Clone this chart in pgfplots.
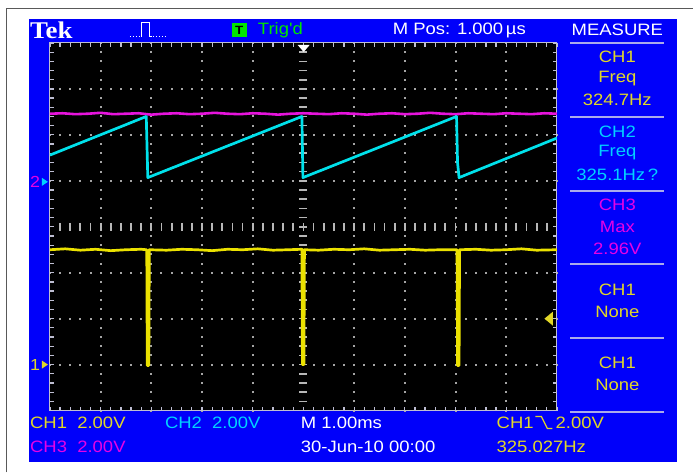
\documentclass[border=0pt]{standalone}
\usepackage{pgfplots}
\pgfplotsset{compat=1.18}
\usepackage{fontspec}
\setmainfont{Liberation Sans}
\newfontfamily\tek[FakeStretch=1.12]{Liberation Sans}
\newfontfamily\tekserif[FakeStretch=1.12]{Liberation Serif}
\definecolor{tekblue}{RGB}{0,0,250}
\definecolor{tyel}{RGB}{225,215,40}
\definecolor{trYel}{RGB}{235,225,0}
\definecolor{tcyan}{RGB}{0,210,255}
\definecolor{trCyan}{RGB}{0,225,235}
\definecolor{tmag}{RGB}{230,0,230}
\definecolor{trMag}{RGB}{230,20,220}
\definecolor{tgreen}{RGB}{0,230,0}
\definecolor{sepcol}{RGB}{170,170,235}
\definecolor{gridcol}{RGB}{165,165,165}
\definecolor{edgecol}{RGB}{190,190,210}
\begin{document}
\begin{tikzpicture}[x=1pt,y=-1pt]
\fill[white] (0,0) rectangle (694,473);
\draw[black!65, line width=1.5pt] (6.5,473) -- (6.5,8.5) -- (694,8.5);
\fill[tekblue] (29,19) rectangle (678,462);
\fill[black] (50,43) rectangle (557.5,411);
% grid dots on vertical lines
\foreach \i in {1,2,3,4,6,7,8,9}{
  \foreach \j in {0,...,40}{
    \fill[gridcol] ({50+50.75*\i-1},{43+9.2*\j-1}) rectangle +(2,2);
  }
}
% grid dots on horizontal lines
\foreach \m in {1,2,3,5,6,7}{
  \foreach \j in {0,...,50}{
    \fill[gridcol] ({50+10.15*\j-1},{43+46*\m-1}) rectangle +(2,2);
  }
}
% center line ticks
\foreach \j in {1,...,39}{
  \draw[gridcol!80!white, line width=1.6pt] ({303.75-4},{43+9.2*\j}) -- ({303.75+4},{43+9.2*\j});
}
\foreach \j in {1,...,49}{
  \draw[gridcol!80!white, line width=1.8pt] ({50+10.15*\j},223) -- ({50+10.15*\j},231);
}
% edge ticks
\foreach \j in {0,...,50}{
  \draw[edgecol, line width=1.2pt] ({50+10.15*\j},43) -- ({50+10.15*\j},47);
  \draw[edgecol, line width=1.2pt] ({50+10.15*\j},411) -- ({50+10.15*\j},407);
}
\foreach \j in {0,...,40}{
  \draw[edgecol, line width=1.2pt] (50,{43+9.2*\j}) -- (54,{43+9.2*\j});
  \draw[edgecol, line width=1.2pt] (557.5,{43+9.2*\j}) -- (553.5,{43+9.2*\j});
}
\draw[edgecol, line width=1pt] (50,43) rectangle (557.5,411);
\begin{axis}[at={(50pt,-411pt)}, anchor=south west, width=507.5pt, height=368pt,
  scale only axis, xmin=0, xmax=10, ymin=-4, ymax=4, hide axis, clip=true]
\addplot[trMag, line width=2.6pt, line join=round] coordinates {
(0,2.46)(0.25,2.47)(0.5,2.45)(0.75,2.46)(1,2.48)(1.25,2.45)(1.5,2.46)(1.75,2.47)(2,2.44)(2.25,2.46)(2.5,2.47)(2.75,2.45)(3,2.46)(3.25,2.48)(3.5,2.46)(3.75,2.45)(4,2.47)(4.25,2.46)(4.5,2.44)(4.75,2.46)(5,2.47)(5.25,2.46)(5.5,2.45)(5.75,2.47)(6,2.46)(6.25,2.44)(6.5,2.46)(6.75,2.47)(7,2.45)(7.25,2.46)(7.5,2.48)(7.75,2.46)(8,2.45)(8.25,2.47)(8.5,2.46)(8.75,2.45)(9,2.47)(9.25,2.46)(9.5,2.45)(9.75,2.47)(10,2.46)};
\addplot[trCyan, line width=2.7pt, line join=round] coordinates {
(0,1.56)(1.90,2.40)(1.93,1.07)(4.97,2.40)(4.99,1.07)(8.02,2.40)(8.04,1.40)(8.07,1.07)(10,1.93)};
\addplot[trYel, line width=2.7pt, line join=round] coordinates {
(0,-0.50)(0.3,-0.48)(0.6,-0.51)(0.9,-0.49)(1.2,-0.52)(1.5,-0.50)(1.8,-0.49)(1.91,-0.50)(1.92,-3.02)(1.95,-3.02)(1.96,-0.50)(2.3,-0.51)(2.6,-0.49)(2.9,-0.50)(3.2,-0.52)(3.5,-0.49)(3.8,-0.50)(4.1,-0.48)(4.4,-0.51)(4.7,-0.50)(4.97,-0.49)(4.98,-3.0)(5.01,-3.0)(5.02,-0.50)(5.3,-0.51)(5.6,-0.49)(5.9,-0.50)(6.2,-0.48)(6.5,-0.51)(6.8,-0.50)(7.1,-0.49)(7.4,-0.51)(7.7,-0.50)(8.03,-0.50)(8.04,-3.02)(8.07,-3.02)(8.08,-0.50)(8.4,-0.49)(8.7,-0.51)(9.0,-0.50)(9.3,-0.48)(9.6,-0.51)(10,-0.50)};
\end{axis}
% markers
\fill[white] (298,45) -- (310,45) -- (304,52) -- cycle;
\fill[tyel] (553.5,312) -- (553.5,326) -- (545,319) -- cycle;
\node[anchor=west, inner sep=0, text=tmag, font=\tek\fontsize{16}{16}\selectfont] at (30,182) {2};
\fill[tcyan] (42,178) -- (48,182) -- (42,186) -- cycle;
\node[anchor=west, inner sep=0, text=tyel, font=\tek\fontsize{16}{16}\selectfont] at (30,365) {1};
\fill[tyel] (42,361) -- (48,365) -- (42,369) -- cycle;
% status bar
\node[anchor=west, inner sep=0, text=white, font=\tekserif\bfseries\fontsize{24}{24}\selectfont] at (30,30) {Tek};
\draw[white, line width=1pt, dash pattern=on 1.5pt off 1.5pt] (130,37) -- (142,37);
\draw[white, line width=1pt] (142,37) -- (142,23) -- (150,23) -- (150,37) -- (152,37);
\draw[white, line width=1pt, dash pattern=on 1.5pt off 1.5pt] (153,37) -- (166,37);
\fill[tgreen] (232,23) rectangle (247,37);
\node[inner sep=0, text=black, font=\tek\bfseries\fontsize{12}{12}\selectfont] at (239.5,30) {T};
\node[anchor=west, inner sep=0, text=tgreen, font=\tek\fontsize{16.5}{16.5}\selectfont] at (258,30) {Trig'd};
\node[anchor=west, inner sep=0, text=white, font=\tek\fontsize{16.5}{16.5}\selectfont] at (393,30) {M Pos: 1.000\,µs};
\node[inner sep=0, text=white, font=\tek\fontsize{16.5}{16.5}\selectfont] at (618,30) {MEASURE};
% panel separators
\foreach \y in {43,117,191,264,338,412}{
  \draw[sepcol, line width=2pt] (571,\y) -- (665,\y);
}
\begin{scope}[every node/.style={inner sep=0, font=\tek\fontsize{16.5}{16.5}\selectfont}]
\node[text=tyel] at (618,57) {CH1};
\node[text=tyel] at (618,79) {Freq};
\node[text=tyel] at (618,100) {324.7Hz};
\node[text=tcyan] at (618,132) {CH2};
\node[text=tcyan] at (618,153) {Freq};
\node[text=tcyan] at (618,175) {325.1Hz\,?};
\node[text=tmag] at (618,205) {CH3};
\node[text=tmag] at (618,227) {Max};
\node[text=tmag] at (618,249) {2.96V};
\node[text=tyel] at (618,290) {CH1};
\node[text=tyel] at (618,312) {None};
\node[text=tyel] at (618,363) {CH1};
\node[text=tyel] at (618,385) {None};
% bottom
\node[anchor=west, text=tyel] at (30,423) {CH1\ \ 2.00V};
\node[anchor=west, text=tcyan] at (165,423) {CH2\ \ 2.00V};
\node[anchor=west, text=white] at (301,423) {M 1.00ms};
\node[anchor=west, text=tyel] at (497,423) {CH1};
\node[anchor=west, text=tyel] at (556,423) {2.00V};
\node[anchor=west, text=tmag] at (30,447) {CH3\ \ 2.00V};
\node[anchor=west, text=white] at (301,447) {30-Jun-10 00:00};
\node[anchor=west, text=tyel] at (497,447) {325.027Hz};
\end{scope}
\draw[tyel, line width=1.3pt] (536,417) -- (542,417) -- (548,429) -- (553,429);
\end{tikzpicture}
\end{document}
